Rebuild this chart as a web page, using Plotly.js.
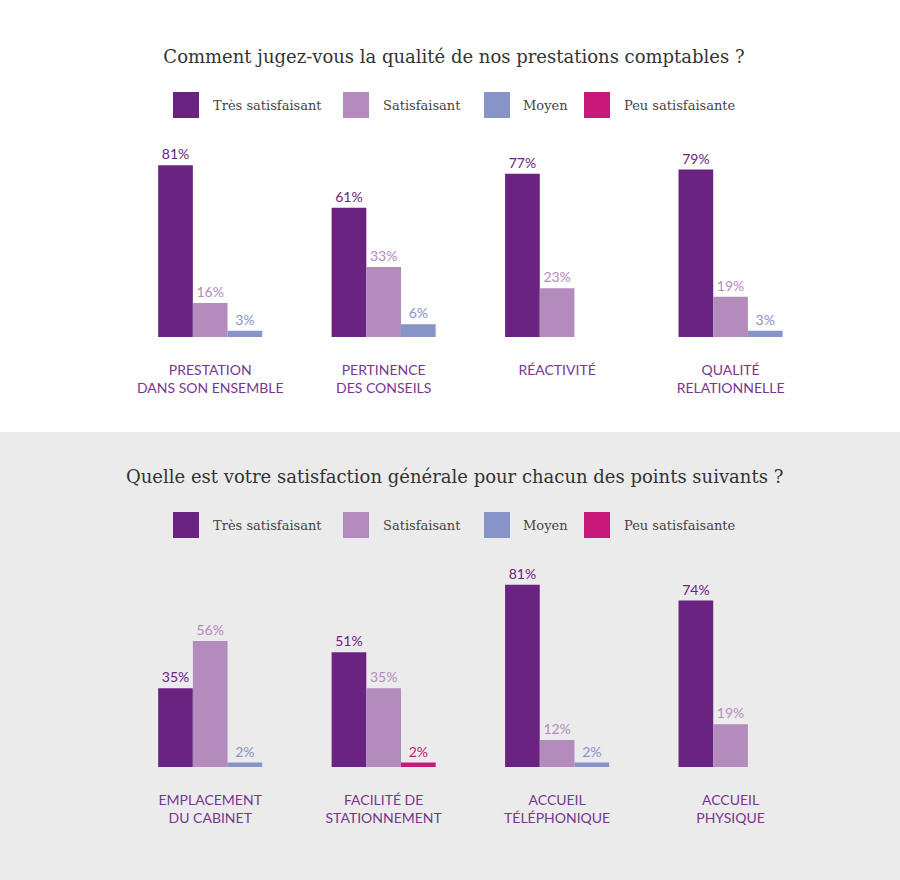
<!DOCTYPE html>
<html>
<head>
<meta charset="utf-8">
<script src="https://cdn.plot.ly/plotly-3.0.1.min.js"></script>
<style>html,body{margin:0;padding:0;background:#fff;}#chart{width:900px;height:880px;}</style>
</head>
<body>
<div id="chart"></div>
<script>
// ---- data ----
const seriesNames = ['Très satisfaisant', 'Satisfaisant', 'Moyen', 'Peu satisfaisante'];
const seriesColors = ['#6a2380', '#b48bbd', '#8893c8', '#c8197a'];
const labelColors = ['#6a2380', '#b48bbd', '#8893c8', '#c8197a'];

const title1 = 'Comment jugez-vous la qualité de nos prestations comptables ?';
const categories1 = ['PRESTATION<br>DANS SON ENSEMBLE', 'PERTINENCE<br>DES CONSEILS', 'RÉACTIVITÉ', 'QUALITÉ<br>RELATIONNELLE'];
const q1Tres = [81, 61, 77, 79];
const q1Satisfaisant = [16, 33, 23, 19];
const q1Moyen = [3, 6, null, 3];
const q1Peu = [null, null, null, null];

const title2 = 'Quelle est votre satisfaction générale pour chacun des points suivants ?';
const categories2 = ['EMPLACEMENT<br>DU CABINET', 'FACILITÉ DE<br>STATIONNEMENT', 'ACCUEIL<br>TÉLÉPHONIQUE', 'ACCUEIL<br>PHYSIQUE'];
const q2Tres = [35, 51, 81, 74];
const q2Satisfaisant = [56, 35, 12, 19];
const q2Moyen = [2, null, 2, null];
const q2Peu = [null, 2, null, null];

// ---- styling ----
const W = 900, H = 880;
const barWidth = 0.2;
const slotOffsets = [-0.3, -0.1, 0.1, 0.1];
const labelFont = 'Lato, "Open Sans", sans-serif';
const serifFont = '"DejaVu Serif", "Liberation Serif", serif';
const py = px => 1 - px / H;
const pxx = px => px / W;

function makeTraces(cats, valueSets, xa, ya) {
  return valueSets.map((vals, i) => ({
    type: 'bar',
    name: seriesNames[i],
    x: cats,
    y: vals,
    xaxis: xa,
    yaxis: ya,
    width: barWidth,
    offset: slotOffsets[i],
    marker: { color: seriesColors[i], line: { width: 0 } },
    texttemplate: '%{y}%',
    textposition: 'outside',
    outsidetextfont: { family: labelFont, size: 14, color: labelColors[i] },
    cliponaxis: false,
    hoverinfo: 'skip',
    showlegend: false
  }));
}

const data = [
  ...makeTraces(categories1, [q1Tres, q1Satisfaisant, q1Moyen, q1Peu], 'x', 'y'),
  ...makeTraces(categories2, [q2Tres, q2Satisfaisant, q2Moyen, q2Peu], 'x2', 'y2')
];

const xDomain = [0.1372, 0.9081];
const xAxisBase = {
  domain: xDomain,
  type: 'category',
  range: [-0.5, 3.5],
  showgrid: false, zeroline: false, showline: false,
  ticks: '',
  ticklabelstandoff: 23,
  tickfont: { family: labelFont, size: 14, color: '#7a3590' },
  fixedrange: true
};
const yAxisBase = { range: [0, 100], visible: false, fixedrange: true };

// custom legend (two rows: one per chart)
const legendX = [173, 343, 484, 584];
const legendTextX = [211, 381, 521, 622];
const legendRowsY = [105, 525];
const shapes = [{
  type: 'rect', xref: 'paper', yref: 'paper', layer: 'below',
  x0: 0, x1: 1, y0: 0, y1: py(432),
  fillcolor: '#ebebeb', line: { width: 0 }
}];
const annotations = [];
legendRowsY.forEach(cy => {
  seriesNames.forEach((name, i) => {
    shapes.push({
      type: 'rect', xref: 'paper', yref: 'paper',
      x0: pxx(legendX[i]), x1: pxx(legendX[i] + 26),
      y0: py(cy + 13), y1: py(cy - 13),
      fillcolor: seriesColors[i], line: { width: 0 }
    });
    annotations.push({
      xref: 'paper', yref: 'paper', x: pxx(legendTextX[i]), y: py(cy),
      xanchor: 'left', yanchor: 'middle', showarrow: false,
      text: name, font: { family: serifFont, size: 13, color: '#444444' }
    });
  });
});
annotations.push({
  xref: 'paper', yref: 'paper', x: pxx(454), y: py(477),
  xanchor: 'center', yanchor: 'middle', showarrow: false,
  text: title2, font: { family: serifFont, size: 18, color: '#333333' }
});

const layout = {
  width: W, height: H,
  margin: { l: 0, r: 0, t: 0, b: 0 },
  paper_bgcolor: '#ffffff',
  plot_bgcolor: 'rgba(0,0,0,0)',
  barmode: 'overlay',
  showlegend: false,
  title: {
    text: title1, x: 454 / W, xanchor: 'center', y: py(57), yanchor: 'middle',
    xref: 'paper', yref: 'paper',
    font: { family: serifFont, size: 18, color: '#333333' }
  },
  xaxis: Object.assign({}, xAxisBase, { anchor: 'y' }),
  yaxis: Object.assign({}, yAxisBase, { domain: [py(337), py(125)], anchor: 'x' }),
  xaxis2: Object.assign({}, xAxisBase, { anchor: 'y2' }),
  yaxis2: Object.assign({}, yAxisBase, { domain: [py(767), py(542)], anchor: 'x2' }),
  shapes: shapes,
  annotations: annotations,
  hovermode: false
};

Plotly.newPlot('chart', data, layout, { displayModeBar: false, staticPlot: true });
</script>
</body>
</html>
